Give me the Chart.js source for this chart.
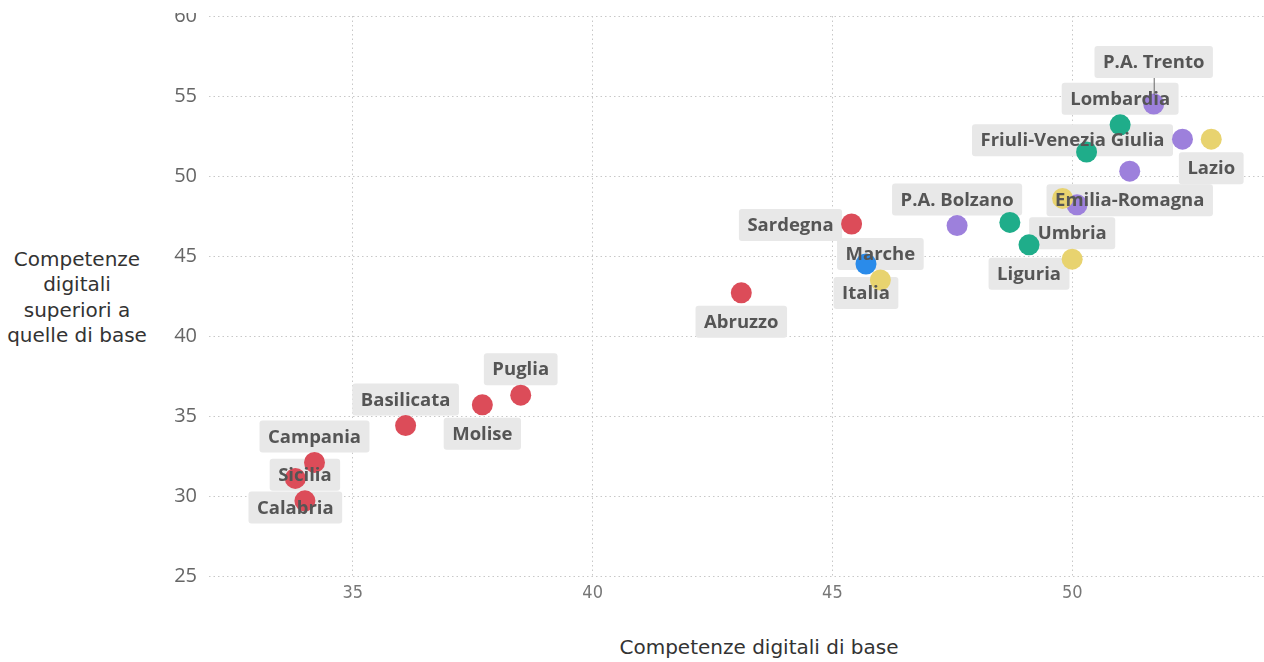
<!DOCTYPE html>
<html>
<head>
<meta charset="utf-8">
<script src="https://cdn.jsdelivr.net/npm/chart.js@4.4.0/dist/chart.umd.min.js"></script>
<style>
  html, body { margin: 0; padding: 0; background: #fff; width: 1264px; height: 662px; overflow: hidden; position: relative; }
  #wrap { position: absolute; left: 0; top: 13px; width: 1264px; height: 649px; }
  #ytitle { position: absolute; left: 0; top: 247px; width: 154px; text-align: center;
            font-family: 'DejaVu Sans', sans-serif; font-size: 20px; line-height: 25.3px; color: #333; }
  #xtitle { position: absolute; left: 559px; top: 635px; width: 400px; text-align: center;
            font-family: 'DejaVu Sans', sans-serif; font-size: 20px; line-height: 24px; color: #333; }
</style>
</head>
<body>
<div id="ytitle">Competenze<br>digitali<br>superiori a<br>quelle di base</div>
<div id="xtitle">Competenze digitali di base</div>
<div id="wrap"><canvas id="c"></canvas></div>
<script>
// ---- Data ----
const regions = ['Italia', 'Marche', 'Umbria', 'Lazio', 'Toscana',
  'Liguria', "Valle d'Aosta", 'Piemonte', 'Lombardia',
  'P.A. Trento', 'Friuli-Venezia Giulia', 'Emilia-Romagna', 'Veneto', 'P.A. Bolzano',
  'Sardegna', 'Abruzzo', 'Puglia', 'Molise', 'Basilicata', 'Campania', 'Calabria', 'Sicilia'];
const basicSkills = [45.7, 46.0, 50.0, 52.9, 49.8,
  49.1, 48.7, 50.3, 51.0,
  51.7, 52.3, 51.2, 50.1, 47.6,
  45.4, 43.1, 38.5, 37.7, 36.1, 34.2, 33.8, 34.0];
const advancedSkills = [44.5, 43.5, 44.8, 52.3, 48.6,
  45.7, 47.1, 51.5, 53.2,
  54.5, 52.3, 50.3, 48.2, 46.9,
  47.0, 42.7, 36.3, 35.7, 34.4, 32.1, 31.1, 29.7];
const areas = ['Italia', 'Centro', 'Centro', 'Centro', 'Centro',
  'Nord-ovest', 'Nord-ovest', 'Nord-ovest', 'Nord-ovest',
  'Nord-est', 'Nord-est', 'Nord-est', 'Nord-est', 'Nord-est',
  'Sud e Isole', 'Sud e Isole', 'Sud e Isole', 'Sud e Isole', 'Sud e Isole', 'Sud e Isole', 'Sud e Isole', 'Sud e Isole'];
const areaOrder = ['Italia', 'Centro', 'Nord-ovest', 'Nord-est', 'Sud e Isole'];
const xTicks = [35, 40, 45, 50];
const yTicks = [25, 30, 35, 40, 45, 50, 55, 60];

// ---- Styles ----
const areaColors = {
  'Italia': '#2A8BEA',
  'Centro': '#E8D36F',
  'Nord-ovest': '#1FAD8A',
  'Nord-est': '#9D80DC',
  'Sud e Isole': '#DC4C59'
};
const labelPlacement = {
  'P.A. Trento': 'raised', 'Lombardia': 'above', 'Friuli-Venezia Giulia': 'left',
  'Lazio': 'below', 'Emilia-Romagna': 'below', 'P.A. Bolzano': 'above',
  'Umbria': 'above', 'Liguria': 'below', 'Sardegna': 'left', 'Marche': 'above',
  'Italia': 'below', 'Abruzzo': 'below', 'Puglia': 'above', 'Molise': 'below',
  'Basilicata': 'above', 'Campania': 'above', 'Sicilia': 'above', 'Calabria': 'below'
};

const datasets = areaOrder.map(area => ({
  label: area,
  data: regions.map((r, i) => ({ x: basicSkills[i], y: advancedSkills[i], name: r, area: areas[i] }))
               .filter(p => p.area === area),
  backgroundColor: areaColors[area],
  borderColor: areaColors[area],
  borderWidth: 0,
  pointRadius: 10.5,
  pointHoverRadius: 10.5
}));

function roundRect(ctx, x, y, w, h, r) {
  ctx.beginPath();
  ctx.moveTo(x + r, y);
  ctx.lineTo(x + w - r, y); ctx.quadraticCurveTo(x + w, y, x + w, y + r);
  ctx.lineTo(x + w, y + h - r); ctx.quadraticCurveTo(x + w, y + h, x + w - r, y + h);
  ctx.lineTo(x + r, y + h); ctx.quadraticCurveTo(x, y + h, x, y + h - r);
  ctx.lineTo(x, y + r); ctx.quadraticCurveTo(x, y, x + r, y);
  ctx.closePath();
}

function computeLabels(chart, opts) {
  const ctx = chart.ctx;
  ctx.save();
  ctx.font = opts.font;
  const items = [];
  chart.data.datasets.forEach((ds, di) => {
    const meta = chart.getDatasetMeta(di);
    meta.data.forEach((el, i) => {
      const name = ds.data[i].name;
      const place = opts.placement[name];
      if (!place) return;
      const tw = ctx.measureText(name).width;
      const w = tw + 2 * opts.padX, h = opts.boxH;
      let cx = el.x, cy = el.y;
      if (place === 'above') cy = el.y - opts.above;
      else if (place === 'below') cy = el.y + opts.below;
      else if (place === 'raised') cy = el.y - opts.raised;
      else if (place === 'left') { cx = el.x - opts.leftGap - w / 2; cy = el.y + 1; }
      items.push({ name, cx, cy, w, h, px: el.x, py: el.y, place });
    });
  });
  ctx.restore();
  return items;
}

const pointLabels = {
  id: 'pointLabels',
  beforeDatasetsDraw(chart, args, opts) {
    const ctx = chart.ctx;
    const items = computeLabels(chart, opts);
    ctx.save();
    ctx.fillStyle = opts.boxColor;
    items.forEach(it => {
      roundRect(ctx, it.cx - it.w / 2, it.cy - it.h / 2, it.w, it.h, 3);
      ctx.fill();
    });
    ctx.restore();
  },
  afterDatasetsDraw(chart, args, opts) {
    const ctx = chart.ctx;
    const items = computeLabels(chart, opts);
    ctx.save();
    items.forEach(it => {
      if (it.place === 'raised') {
        ctx.strokeStyle = '#666';
        ctx.lineWidth = 1;
        ctx.beginPath();
        ctx.moveTo(it.cx + 0.5, it.cy + it.h / 2);
        ctx.lineTo(it.px + 0.5, it.py - 9);
        ctx.stroke();
      }
    });
    ctx.font = opts.font;
    ctx.fillStyle = opts.color;
    ctx.textAlign = 'center';
    ctx.textBaseline = 'middle';
    items.forEach(it => ctx.fillText(it.name, it.cx, it.cy + 1));
    ctx.restore();
  }
};

const gridCommon = { color: '#c8c8c8', lineWidth: 1, drawTicks: false, borderDash: [1.5, 3] };

new Chart(document.getElementById('c'), {
  type: 'scatter',
  data: { datasets },
  plugins: [pointLabels],
  options: {
    responsive: true,
    maintainAspectRatio: false,
    animation: false,
    layout: { autoPadding: false, padding: { left: 0, right: 0, top: 3, bottom: 0 } },
    plugins: {
      legend: { display: false },
      tooltip: { enabled: false },
      pointLabels: {
        placement: labelPlacement,
        font: "bold 18.5px 'Open Sans', sans-serif",
        color: '#555555',
        boxColor: '#e8e8e8',
        padX: 8.5,
        boxH: 32,
        above: 26,
        below: 29,
        raised: 42,
        leftGap: 9.5
      }
    },
    scales: {
      x: {
        type: 'linear',
        position: 'bottom',
        min: 32,
        max: 54,
        grid: gridCommon,
        border: { display: false, dash: [1.5, 3] },
        afterBuildTicks: s => { s.ticks = xTicks.map(v => ({ value: v })); },
        afterFit: s => { s.height = 86; s.paddingLeft = 0; s.paddingRight = 0; },
        ticks: {
          padding: 7,
          color: '#777777',
          font: { family: "'DejaVu Sans Condensed', 'DejaVu Sans', sans-serif", size: 18 }
        }
      },
      y: {
        type: 'linear',
        min: 25,
        max: 60,
        grid: gridCommon,
        border: { display: false, dash: [1.5, 3] },
        afterBuildTicks: s => { s.ticks = yTicks.map(v => ({ value: v })); },
        afterFit: s => { s.width = 209; s.paddingTop = 0; s.paddingBottom = 0; },
        ticks: {
          padding: 12,
          color: '#666666',
          font: { family: "'Open Sans', sans-serif", size: 20 }
        }
      }
    }
  }
});
</script>
</body>
</html>
